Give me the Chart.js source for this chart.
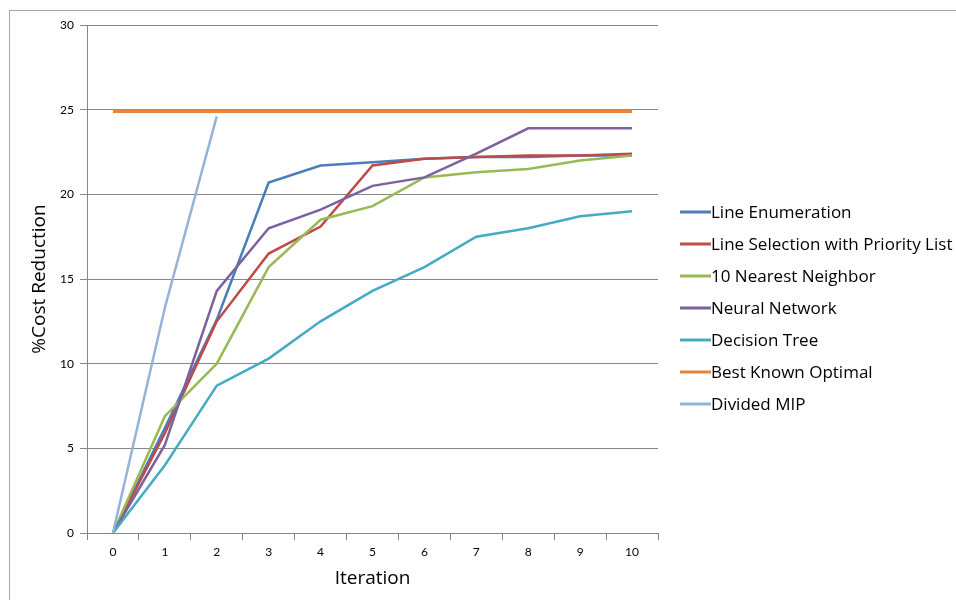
<!DOCTYPE html>
<html>
<head>
<meta charset="utf-8">
<script src="https://cdn.jsdelivr.net/npm/chart.js@4"></script>
<style>
  html, body { margin: 0; padding: 0; background: #fff; }
  #wrap { width: 956px; height: 600px; position: relative; }
</style>
</head>
<body>
<div id="wrap"><canvas id="costChart"></canvas></div>
<script>
const iterations = ['0', '1', '2', '3', '4', '5', '6', '7', '8', '9', '10'];
const seriesNames = ['Line Enumeration', 'Line Selection with Priority List', '10 Nearest Neighbor',
    'Neural Network', 'Decision Tree', 'Best Known Optimal', 'Divided MIP'];
const lineEnumeration = [0, 6.2, 12.6, 20.7, 21.7, 21.9, 22.1, 22.2, 22.2, 22.3, 22.3];
const lineSelection = [0, 5.9, 12.5, 16.5, 18.1, 21.7, 22.1, 22.2, 22.3, 22.3, 22.4];
const nearestNeighbor = [0, 6.9, 10.0, 15.7, 18.5, 19.3, 21.0, 21.3, 21.5, 22.0, 22.3];
const neuralNetwork = [0, 5.2, 14.3, 18.0, 19.1, 20.5, 21.0, 22.4, 23.9, 23.9, 23.9];
const decisionTree = [0, 4.0, 8.7, 10.3, 12.5, 14.3, 15.7, 17.5, 18.0, 18.7, 19.0];
const bestKnown = [24.9, 24.9, 24.9, 24.9, 24.9, 24.9, 24.9, 24.9, 24.9, 24.9, 24.9];
const dividedMip = [0, 13.3, 24.6, null, null, null, null, null, null, null, null];
const yTicks = [0, 5, 10, 15, 20, 25, 30];

const colors = ['#4A7EBB', '#BE4B48', '#98B954', '#7D60A0', '#46AAC5', '#E8853A', '#95B3D7'];
const allSeries = [lineEnumeration, lineSelection, nearestNeighbor, neuralNetwork, decisionTree, bestKnown, dividedMip];
const gray = '#868686';
const tickFont = 'Lato, "Open Sans", sans-serif';
const textFont = '"Open Sans", Lato, sans-serif';

// legend drawn to the right, Excel style
const sideLegend = {
    id: 'sideLegend',
    afterDraw(chart) {
        const ctx = chart.ctx;
        ctx.save();
        ctx.font = '17px ' + textFont;
        ctx.textBaseline = 'middle';
        chart.data.datasets.forEach(function (ds, i) {
            const y = 212 + i * 32;
            ctx.strokeStyle = ds.borderColor;
            ctx.lineWidth = 3;
            ctx.beginPath();
            ctx.moveTo(680, y);
            ctx.lineTo(711, y);
            ctx.stroke();
            ctx.fillStyle = '#000';
            ctx.fillText(ds.label, 711, y + 1);
        });
        ctx.restore();
    }
};

const frame = {
    id: 'frame',
    beforeDraw(chart) {
        const ctx = chart.ctx;
        ctx.save();
        ctx.strokeStyle = '#a6a6a6';
        ctx.lineWidth = 1;
        ctx.strokeRect(9.5, 10.5, 1000, 1000);
        ctx.restore();
    }
};

const ctx = document.getElementById('costChart').getContext('2d');
const costChart = new Chart(ctx, {
    type: 'line',
    data: {
        labels: iterations,
        datasets: seriesNames.map(function (name, i) {
            return {
                label: name,
                data: allSeries[i],
                borderColor: colors[i],
                backgroundColor: colors[i],
                borderWidth: i === 5 ? 3.5 : 2.5,
                pointRadius: 0,
                tension: 0,
                fill: false,
                order: 10 - i
            };
        })
    },
    options: {
        responsive: true,
        maintainAspectRatio: false,
        animation: false,
        layout: { padding: { left: 0, top: 25, right: 298, bottom: 0 } },
        plugins: {
            legend: { display: false },
            tooltip: { enabled: false }
        },
        scales: {
            x: {
                type: 'category',
                offset: true,
                grid: { offset: true, drawOnChartArea: false, color: gray, tickLength: 7 },
                border: { color: gray },
                ticks: { color: '#000', font: { family: tickFont, size: 12 }, padding: 5, maxRotation: 0 },
                title: { display: true, text: 'Iteration', color: '#000',
                    font: { family: textFont, size: 19 }, padding: { top: 0, bottom: 10 } },
                afterFit: function (s) { s.height = 67; }
            },
            y: {
                min: 0,
                max: 30,
                afterBuildTicks: function (s) { s.ticks = yTicks.map(function (v) { return { value: v }; }); },
                grid: { color: gray, tickLength: 7 },
                border: { color: gray },
                ticks: { color: '#000', font: { family: tickFont, size: 12 }, padding: 6 },
                title: { display: true, text: '%Cost Reduction', color: '#000',
                    font: { family: textFont, size: 19 }, padding: { top: 28, bottom: 0 } },
                afterFit: function (s) { s.width = 87; }
            }
        }
    },
    plugins: [frame, sideLegend]
});
</script>
</body>
</html>
